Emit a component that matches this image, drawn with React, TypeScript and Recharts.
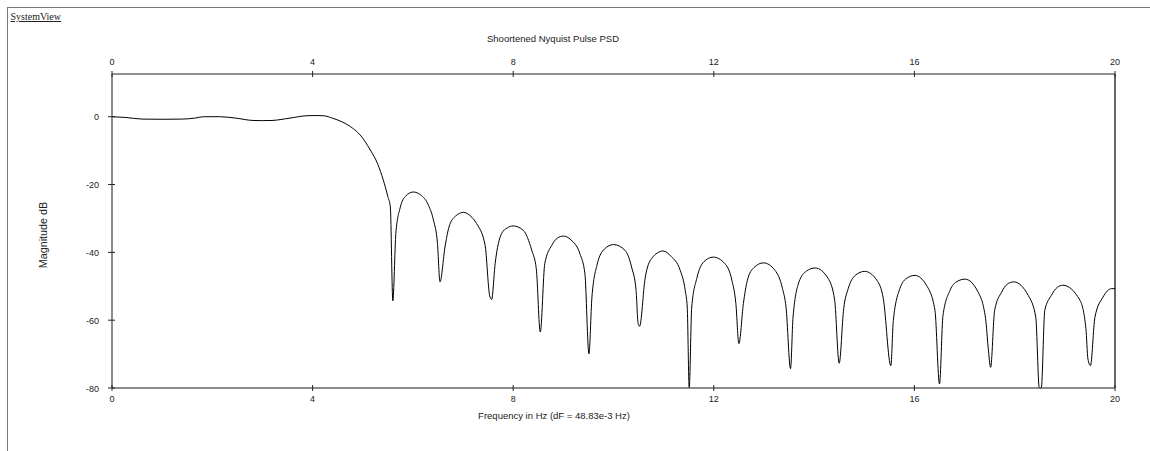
import React from "react";
import { LineChart, Line, XAxis, YAxis, ReferenceLine } from "recharts";

// frequency (Hz) and magnitude (dB)
const freqHz = [
  0, 0.26, 0.6, 1.0, 1.39, 1.66, 1.82, 2.16, 2.46, 2.81, 3.0, 3.19, 3.55, 3.89, 4.05, 4.21,
  4.41, 4.6, 4.8, 4.95, 5.15, 5.3, 5.41, 5.5, 5.55, 5.6, 5.66, 5.75, 5.85, 6.01, 6.15, 6.31,
  6.41, 6.49, 6.54, 6.64, 6.72, 6.85, 7.01, 7.15, 7.27, 7.44, 7.53, 7.57, 7.64, 7.77, 7.88,
  8.0, 8.2, 8.37, 8.46, 8.54, 8.63, 8.77, 8.88, 9.0, 9.15, 9.33, 9.43, 9.51, 9.57, 9.67,
  9.82, 10.0, 10.23, 10.36, 10.45, 10.49, 10.52, 10.63, 10.76, 10.99, 11.15, 11.33, 11.43,
  11.47, 11.51, 11.56, 11.66, 11.8, 11.99, 12.22, 12.36, 12.44, 12.5, 12.59, 12.67, 12.8,
  12.99, 13.22, 13.37, 13.44, 13.53, 13.58, 13.7, 13.85, 14.02, 14.28, 14.41, 14.5, 14.59,
  14.68, 14.82, 15.01, 15.25, 15.38, 15.53, 15.58, 15.71, 15.85, 16.01, 16.24, 16.41, 16.5,
  16.57, 16.71, 16.85, 17.01, 17.27, 17.42, 17.47, 17.52, 17.6, 17.74, 17.85, 17.98, 18.27,
  18.42, 18.49, 18.53, 18.6, 18.73, 18.85, 18.96, 19.3, 19.42, 19.46, 19.51, 19.6, 19.76,
  19.93, 20,
];
const magDb = [
  0, -0.2, -0.7, -0.75, -0.7, -0.4, 0, 0, -0.4, -1.1, -1.15, -1.1, -0.4, 0.3, 0.35, 0.3,
  -0.5, -1.6, -3.4, -5.4, -9.8, -14, -18.7, -23.5, -26.6, -54.3, -34.4, -26.6, -23.5, -22.2, -23, -26.1,
  -30.5, -37.4, -48.7, -38.4, -32.5, -29.3, -28.2, -29.3, -31.5, -37.9, -52.7, -53.9, -43.3, -34.4, -32.8,
  -32.2, -33.5, -39.4, -44.8, -63.5, -43.3, -37.9, -35.8, -35.2, -36.3, -40.4, -46.3, -69.9, -53.2, -43.8,
  -39.0, -37.7, -39.4, -44.3, -51.2, -60.9, -61.8, -47.7, -41.8, -39.6, -41.2, -45.3, -51.2,
  -56.1, -80, -56.1, -47.7, -42.8, -41.4, -43.3, -48.2, -55.1, -66.9, -55.1, -48.2, -44.5,
  -43.1, -45.3, -50.7, -56.1, -74.3, -59.1, -48.7, -45.5, -44.6, -47.7, -54.1, -72.7, -56.6,
  -50.7, -46.8, -45.6, -48.2, -53.6, -73.4, -60.1, -50.7, -47.6, -46.8, -49.7, -57.1, -78.8,
  -58.6, -51.2, -48.6, -47.9, -51.7, -59.6, -67.9, -73.9, -57.1, -51.7, -49.4, -48.7, -52.7,
  -59.1, -80, -80, -57.1, -52.7, -50.3, -49.7, -54.1, -62.5, -71.4, -73.4, -59.1, -53.2,
  -50.7, -50.7,
];
const xTicks = [0, 4, 8, 12, 16, 20];
const yTicks = [0, -20, -40, -60, -80];

const data = freqHz.map((f, i) => ({ f, db: magDb[i] }));
const font = "'Liberation Sans', Arial, sans-serif";

// ticks cross the axis line, like the SystemView sink plot
function BottomTick(props: any) {
  const { x, y, payload } = props;
  const ay = y - 10;
  return (
    <g>
      <line x1={x} x2={x} y1={ay - 3} y2={ay + 3} stroke="#222" />
      <text x={x} y={ay + 14} textAnchor="middle" fontSize={9} fontFamily={font} fill="#222">
        {payload.value}
      </text>
    </g>
  );
}

function TopTick(props: any) {
  const { x, y, payload } = props;
  const ay = y + 10;
  return (
    <g>
      <line x1={x} x2={x} y1={ay - 3} y2={ay + 3} stroke="#222" />
      <text x={x} y={ay - 9.5} textAnchor="middle" fontSize={9} fontFamily={font} fill="#222">
        {payload.value}
      </text>
    </g>
  );
}

function LeftTick(props: any) {
  const { x, y, payload } = props;
  const ax = x + 10;
  return (
    <g>
      <line x1={ax - 4} x2={ax + 3} y1={y} y2={y} stroke="#222" />
      <text x={ax - 13} y={y + 3.5} textAnchor="end" fontSize={9} fontFamily={font} fill="#222">
        {payload.value}
      </text>
    </g>
  );
}

export default function App() {
  return (
    <div style={{ position: "absolute", left: 0, top: 0, width: 1150, height: 451, background: "#fff" }}>
      <div
        style={{
          position: "absolute",
          left: 7,
          top: 7,
          width: 1143,
          height: 444,
          borderLeft: "1px solid #777",
          borderTop: "1px solid #777",
        }}
      />
      <LineChart
        width={1150}
        height={451}
        data={data}
        margin={{ top: 0, right: 35, bottom: 0, left: 0 }}
        style={{ position: "absolute", left: 0, top: 0 }}
      >
        <XAxis
          dataKey="f"
          type="number"
          domain={[0, 20]}
          ticks={xTicks}
          height={63}
          tickSize={0}
          tickMargin={10}
          tick={<BottomTick />}
          axisLine={{ stroke: "#666", strokeWidth: 1.5 }}
        />
        <XAxis
          xAxisId="top"
          orientation="top"
          dataKey="f"
          type="number"
          domain={[0, 20]}
          ticks={xTicks}
          height={74}
          tickSize={0}
          tickMargin={10}
          tick={<TopTick />}
          axisLine={{ stroke: "#222", strokeWidth: 1 }}
        />
        <YAxis
          type="number"
          domain={[-80, 12.6]}
          ticks={yTicks}
          width={112}
          tickSize={0}
          tickMargin={10}
          tick={<LeftTick />}
          axisLine={{ stroke: "#666", strokeWidth: 1.5 }}
        />
        <ReferenceLine x={20} stroke="#000" strokeWidth={1.2} />
        <Line
          type="monotone"
          dataKey="db"
          stroke="#000"
          strokeWidth={1}
          dot={false}
          isAnimationActive={false}
        />
      </LineChart>
      <svg width={1150} height={451} style={{ position: "absolute", left: 0, top: 0, pointerEvents: "none" }}>
        <text x={10.5} y={20} fontSize={10} fontFamily="'Liberation Serif', 'Times New Roman', serif" textDecoration="underline" fill="#222">
          SystemView
        </text>
        <text x={553} y={42} textAnchor="middle" fontSize={9.5} fontFamily={font} fill="#222">
          Shoortened Nyquist Pulse PSD
        </text>
        <text x={554} y={419} textAnchor="middle" fontSize={9.5} fontFamily={font} fill="#222">
          Frequency in Hz (dF = 48.83e-3 Hz)
        </text>
        <text
          x={47}
          y={235}
          textAnchor="middle"
          fontSize={10.8}
          fontFamily={font}
          fill="#222"
          transform="rotate(-90 47 235)"
        >
          Magnitude dB
        </text>
      </svg>
    </div>
  );
}
